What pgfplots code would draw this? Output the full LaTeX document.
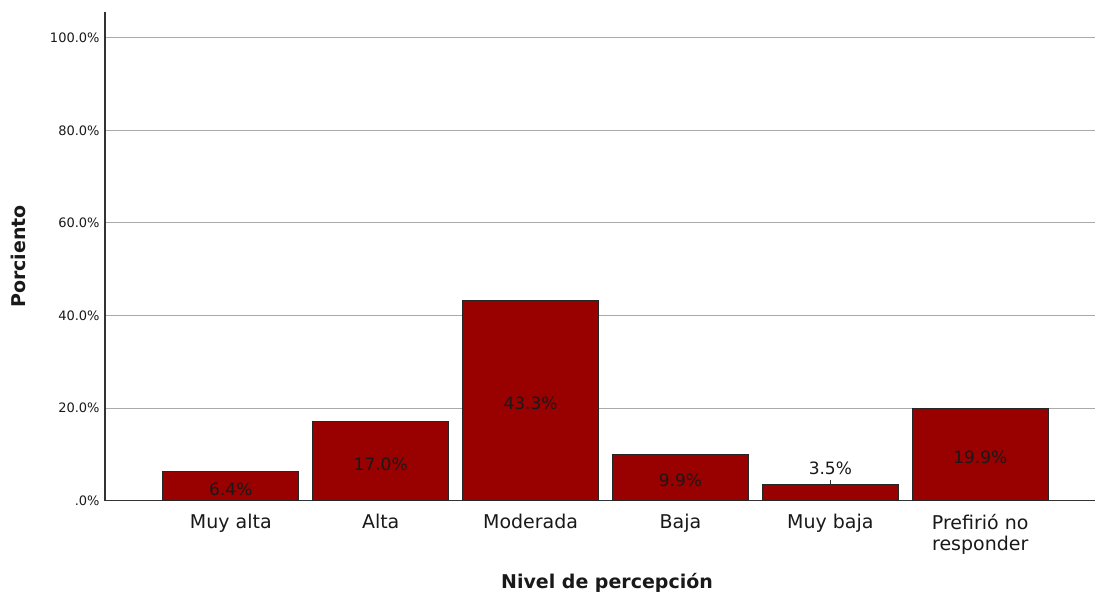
\documentclass[border=0pt]{standalone}
\usepackage{pgfplots}
\pgfplotsset{compat=1.18}
\usepackage{fontspec}
\setmainfont{DejaVu Sans}
\definecolor{barred}{RGB}{153,0,0}
\definecolor{txt}{RGB}{25,25,25}
\definecolor{gridc}{RGB}{170,170,170}
\begin{document}
\begin{tikzpicture}
\begin{axis}[
  scale only axis,
  width=495.5pt, height=244.5pt,
  xmin=-0.84, xmax=5.767,
  ymin=0, ymax=105.6,
  enlargelimits=false,
  axis lines*=left,
  axis line style={-, draw=black!80, line width=0.8pt},
  xtick={0,1,2,3,4,5},
  xticklabels={Muy alta, Alta, Moderada, Baja, Muy baja, Prefirió no\\responder},
  ytick={0,20,40,60,80,100},
  yticklabels={.0\%,20.0\%,40.0\%,60.0\%,80.0\%,100.0\%},
  major tick length=0pt,
  tick style={draw=none},
  ymajorgrids,
  grid style={gridc, line width=0.5pt},
  yticklabel style={font=\fontsize{6.5}{7}\selectfont, text=txt, anchor=east, inner sep=0pt, xshift=-2.5pt},
  xticklabel style={font=\fontsize{9.5}{10.5}\selectfont, text=txt, anchor=north, inner sep=0pt, yshift=-6.5pt, align=center},
  xlabel={Nivel de percepción},
  ylabel={Porciento},
  xlabel style={font=\bfseries\fontsize{9.5}{11}\selectfont, text=txt, at={(axis description cs:0.507,0)}, anchor=center, yshift=-41pt},
  ylabel style={font=\bfseries\fontsize{9.5}{11}\selectfont, text=txt, at={(axis description cs:0,0.5)}, anchor=center, yshift=43.5pt},
  clip=false,
]
\addplot[ybar, bar width=0.907, fill=barred, draw=black!85, line width=0.5pt]
  coordinates {(0,6.4) (1,17.0) (2,43.3) (3,9.9) (4,3.5) (5,19.9)};
\addplot[draw=none, mark=none, nodes near coords, point meta=explicit symbolic,
  nodes near coords style={anchor=center, yshift=-1.5pt, font=\fontsize{8.5}{10}\selectfont, text=txt}]
  coordinates {(0,3.2)[6.4\%] (1,8.5)[17.0\%] (2,21.65)[43.3\%] (3,4.95)[9.9\%] (5,9.95)[19.9\%]};
\addplot[draw=none, mark=none, nodes near coords, point meta=explicit symbolic,
  nodes near coords style={anchor=south, inner sep=0pt, yshift=4.5pt, font=\fontsize{8.5}{10}\selectfont, text=txt}]
  coordinates {(4,3.5)[3.5\%]};
\draw[black!80, line width=0.4pt] (axis cs:4,3.5) -- (axis cs:4,4.35);
\end{axis}
\path (-52.5pt,-47pt) rectangle (495.5pt,250.5pt);
\end{tikzpicture}
\end{document}
